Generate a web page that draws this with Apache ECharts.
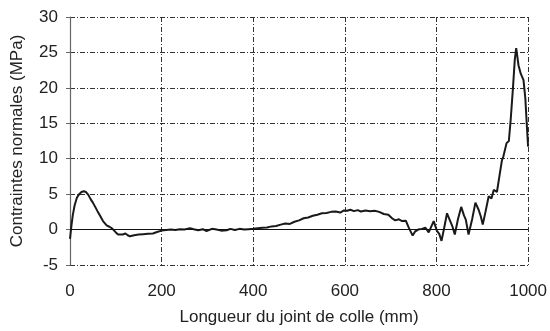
<!DOCTYPE html>
<html><head><meta charset="utf-8">
<script src="https://cdn.jsdelivr.net/npm/echarts@6/dist/echarts.min.js"></script>
<style>html,body{margin:0;padding:0;background:#fff}#c{width:550px;height:331px}</style>
</head><body><div id="c"></div>
<script>
const xPos = [0,3,6,10,15,20,25,30,35,40,45,50,55,60,66,72,80,86,91,96,100,105,109,115,121,126,131,140,150,160,170,181,190,200,210,220,230,240,250,262,270,280,290,298,310,320,330,342,350,360,370,380,390,400,410,420,430,440,450,460,470,480,490,500,510,520,530,540,550,560,570,580,590,598,605,612,620,628,635,645,655,665,675,685,695,703,710,718,725,733,740,748,753,760,768,776,783,794,801,806,811,817,823,830,835,840,847,854,860,864,870,878,885,892,897,901,907,914,920,925,932,938,943,946,950,953,958,962,967,971,974,977,979,984,990,994,997,1000];
const stress = [-1.3,0.5,2.0,3.4,4.5,5.0,5.3,5.4,5.3,4.9,4.3,3.8,3.2,2.6,1.9,1.2,0.6,0.4,0.2,-0.1,-0.4,-0.7,-0.85,-0.7,-0.55,-0.8,-0.95,-0.8,-0.7,-0.65,-0.6,-0.55,-0.35,-0.15,-0.05,0.0,-0.05,0.05,0.0,0.2,0.05,-0.1,0.05,-0.2,0.1,0.0,-0.15,-0.1,0.1,-0.05,0.1,0.0,0.05,0.1,0.2,0.25,0.3,0.45,0.5,0.7,0.85,0.8,1.1,1.3,1.6,1.7,1.95,2.1,2.3,2.35,2.5,2.55,2.4,2.7,2.65,2.8,2.6,2.75,2.55,2.7,2.6,2.65,2.5,2.2,2.1,1.6,1.3,1.45,1.2,1.25,0.2,-0.85,-0.3,0.0,0.1,0.25,-0.4,1.2,-0.2,-0.6,-1.6,0.3,2.3,1.2,0.4,-0.7,1.5,3.2,2.0,1.4,-0.7,1.5,3.8,2.8,1.8,0.7,2.5,4.7,4.4,5.6,5.3,7.8,9.8,10.3,10.1,12.2,12.5,15.5,20,24,25.6,24.2,23.2,22.0,21.1,18.5,15,11.7];
const xTicks = {min:0, max:1000, interval:200};
const yTicks = {min:-5, max:30, interval:5};
const xTitle = 'Longueur du joint de colle (mm)';
const yTitle = 'Contraintes normales (MPa)';

const data = xPos.map((x,i)=>[x, stress[i]]);
const font = 'Liberation Sans, Arial, sans-serif';
const grid = {type:[5,2,1,2], color:'#333', width:1};
const chart = echarts.init(document.getElementById('c'), null, {renderer:'canvas'});
chart.setOption({
  animation:false,
  grid:{left:70, right:21, top:17, bottom:65, containLabel:false},
  xAxis:{type:'value', min:xTicks.min, max:xTicks.max, interval:xTicks.interval,
    name:xTitle, nameLocation:'middle', nameGap:44,
    nameTextStyle:{fontFamily:font, fontSize:17, color:'#222'},
    axisLine:{show:false}, axisTick:{show:false},
    axisLabel:{fontFamily:font, fontSize:17, color:'#222', margin:18, formatter:v=>String(v)},
    splitLine:{show:true, lineStyle:grid}},
  yAxis:{type:'value', min:yTicks.min, max:yTicks.max, interval:yTicks.interval,
    name:yTitle, nameLocation:'middle', nameGap:44,
    nameTextStyle:{fontFamily:font, fontSize:17, color:'#222'},
    axisLine:{show:true, onZero:false, lineStyle:{color:'#666', width:1.2}},
    axisTick:{show:true, length:4, lineStyle:{color:'#666'}},
    axisLabel:{fontFamily:font, fontSize:17, color:'#222', margin:12},
    splitLine:{show:true, lineStyle:grid}},
  series:[{type:'line', data:data, showSymbol:false, symbol:'none',
    lineStyle:{color:'#1a1a1a', width:2}, z:3,
    markLine:{silent:true, symbol:'none', label:{show:false},
      lineStyle:{type:'solid', color:'#111', width:1},
      data:[{yAxis:0}]}}]
});
</script></body></html>
